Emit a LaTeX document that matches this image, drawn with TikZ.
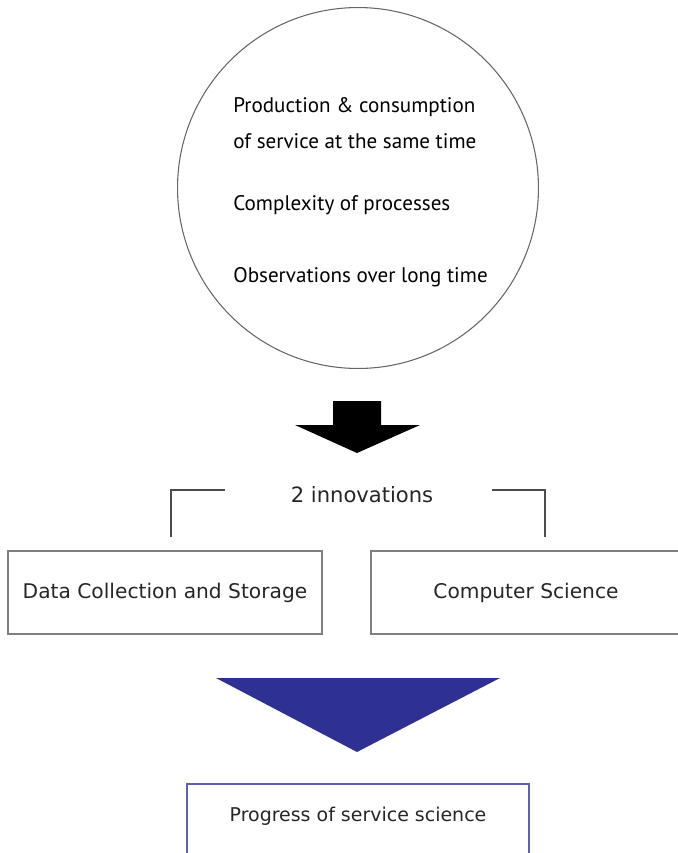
\documentclass[tikz,border=0pt]{standalone}
\usepackage{fontspec}
\setmainfont{DejaVu Sans}
\newfontfamily\causefont{PT Sans}
\usetikzlibrary{positioning,calc}
\definecolor{triblue}{RGB}{46,49,146}
\definecolor{frameblue}{RGB}{95,95,180}
\tikzset{every picture/.style={x=0.02cm,y=-0.02cm}}
\tikzset{cause line/.style={anchor=west,inner sep=0pt,font=\causefont\fontsize{12}{14}\selectfont}}
\tikzset{plain box/.style={draw=black!50,line width=0.8pt,minimum height=1.66cm,font=\fontsize{11.5}{13}\selectfont,text=black!85}}

\begin{document}
\begin{tikzpicture}
      \useasboundingbox (0,0) rectangle (678,853);
      \clip (0,0) rectangle (678,853);
      % causes
      \node [circle,draw=black!60,line width=0.6pt,minimum size=7.22cm] (cause) at (358,188) {};
      \node [cause line] (prod) at (233,107) {Production \& consumption};
      \node [cause line] (same) at (233,141) {of service at the same time};
      \node [cause line] (cplx) at (233,205) {Complexity of processes};
      \node [cause line] (obs) at (233,277) {Observations over long time};
      % block arrow
      \fill (333,401) -- (381,401) -- (381,425) -- (420,425) -- (357,453) -- (295,425) -- (333,425) -- cycle;
      \node [font=\fontsize{12}{14}\selectfont,text=black!85] (innov) at (362,495) {2 innovations};
      \coordinate (lb) at (171,537);
      \coordinate (rb) at (545,537);
      \draw [black!70,line width=0.8pt] (lb) |- (225,490);
      \draw [black!70,line width=0.8pt] (492,490) -| (rb);
      % innovations
      \node [plain box,minimum width=6.28cm] (data) at (165,592.5) {Data Collection and Storage};
      \node [plain box,minimum width=6.2cm] (comp) at (526,592.5) {Computer Science};
      \fill [triblue] (216,678) -- (500,678) -- (357,752) -- cycle;
      % result
      \node [draw=frameblue,line width=0.9pt,anchor=north,minimum width=6.84cm,minimum height=2cm] (prog) at (358,783) {};
      \node [font=\fontsize{10.8}{13}\selectfont,text=black!85] (progtext) at (358,816) {Progress of service science};
    \end{tikzpicture}
\end{document}
